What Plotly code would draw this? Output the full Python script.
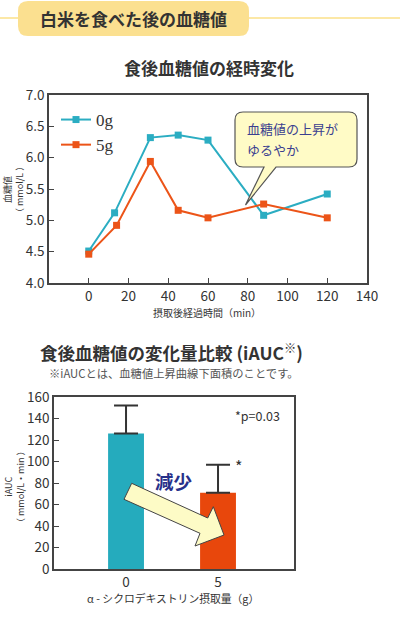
import plotly.graph_objects as go

# ---- data ----
time_0g = [0, 13, 31, 45, 60, 88, 120]
glucose_0g = [4.51, 5.12, 6.32, 6.36, 6.28, 5.08, 5.42]
time_5g = [0, 14, 31, 45, 60, 88, 120]
glucose_5g = [4.46, 4.92, 5.94, 5.16, 5.04, 5.26, 5.04]
x_ticks = [0, 20, 40, 60, 80, 100, 120, 140]

dose_labels = ["0", "5"]
iauc_values = [126, 71]
iauc_err = [26, 26]

W, H = 400, 623
FONT = "Noto Sans CJK JP"
CYAN = "#2badc2"
ORANGE = "#ec5418"
BAR_CYAN = "#25abbd"
BAR_ORANGE = "#e8470c"
TXT = "#333333"


def px(x):
    return x / W


def py(y):
    return 1 - y / H


fig = go.Figure()

fig.add_trace(go.Scatter(
    x=time_0g, y=glucose_0g, name="0g", mode="lines+markers",
    line=dict(color=CYAN, width=2), marker=dict(symbol="square", size=7, color=CYAN),
    xaxis="x", yaxis="y"))
fig.add_trace(go.Scatter(
    x=time_5g, y=glucose_5g, name="5g", mode="lines+markers",
    line=dict(color=ORANGE, width=2), marker=dict(symbol="square", size=7, color=ORANGE),
    xaxis="x", yaxis="y"))

fig.add_trace(go.Bar(
    x=dose_labels, y=iauc_values, width=0.39,
    marker=dict(color=[BAR_CYAN, BAR_ORANGE], line=dict(width=0)),
    error_y=dict(type="data", symmetric=False, array=iauc_err, arrayminus=[0, 0],
                 color="#333333", thickness=2, width=12),
    showlegend=False, xaxis="x2", yaxis="y2"))

axis_common = dict(showline=True, linecolor="#444444", linewidth=1.5, mirror=True,
                   ticks="inside", ticklen=5, tickcolor="#444444", showgrid=False,
                   zeroline=False, automargin=False,
                   tickfont=dict(family=FONT, size=13.5, color=TXT))

fig.update_layout(
    width=W, height=H, margin=dict(l=0, r=0, t=0, b=0, autoexpand=False),
    paper_bgcolor="white", plot_bgcolor="white",
    font=dict(family=FONT, color=TXT),
    xaxis=dict(domain=[px(49), px(367)], range=[-20, 140], tickvals=x_ticks,
               anchor="y", **axis_common),
    yaxis=dict(domain=[py(283), py(95)], range=[4, 7], dtick=0.5, tickformat=".1f",
               anchor="x", **axis_common),
    xaxis2=dict(domain=[px(54), px(294)], type="category", categoryarray=dose_labels,
                range=[-0.783, 1.826], anchor="y2",
                **{**axis_common, "ticks": ""}),
    yaxis2=dict(domain=[py(569), py(397)], range=[0, 160], dtick=20, anchor="x2",
                **axis_common),
    legend=dict(x=px(56), y=py(102), xanchor="left", yanchor="top",
                font=dict(family="Liberation Serif", size=17, color=TXT),
                itemwidth=30, tracegroupgap=0, bgcolor="rgba(0,0,0,0)"),
)

shapes = []
# header line and box
shapes.append(dict(type="line", xref="paper", yref="paper", x0=0, x1=1, y0=py(18), y1=py(18),
                   line=dict(color="#fce8a6", width=2), layer="below"))


def rrect(x0, y0, x1, y1, r):
    return (f"M {px(x0+r)} {py(y0)} L {px(x1-r)} {py(y0)} Q {px(x1)} {py(y0)} {px(x1)} {py(y0+r)} "
            f"L {px(x1)} {py(y1-r)} Q {px(x1)} {py(y1)} {px(x1-r)} {py(y1)} "
            f"L {px(x0+r)} {py(y1)} Q {px(x0)} {py(y1)} {px(x0)} {py(y1-r)} "
            f"L {px(x0)} {py(y0+r)} Q {px(x0)} {py(y0)} {px(x0+r)} {py(y0)} Z")


shapes.append(dict(type="path", xref="paper", yref="paper", path=rrect(18, 1, 249, 36, 10),
                   fillcolor="#fbe090", line=dict(width=0)))

# callout bubble
x0, y0, x1, y1, r = 235, 112, 357, 167, 8
bubble = (f"M {px(x0+r)} {py(y0)} L {px(x1-r)} {py(y0)} Q {px(x1)} {py(y0)} {px(x1)} {py(y0+r)} "
          f"L {px(x1)} {py(y1-r)} Q {px(x1)} {py(y1)} {px(x1-r)} {py(y1)} "
          f"L {px(276)} {py(y1)} L {px(245.5)} {py(205)} L {px(264)} {py(y1)} "
          f"L {px(x0+r)} {py(y1)} Q {px(x0)} {py(y1)} {px(x0)} {py(y1-r)} "
          f"L {px(x0)} {py(y0+r)} Q {px(x0)} {py(y0)} {px(x0+r)} {py(y0)} Z")
shapes.append(dict(type="path", xref="paper", yref="paper", path=bubble,
                   fillcolor="#fffbc6", line=dict(color="#555555", width=1.2)))

# arrow
pts = [(131.7, 483.3), (207.7, 518), (213.3, 506.7), (224, 535), (195, 546), (200, 533.3), (124, 499.3)]
arrow = "M " + " L ".join(f"{px(a)} {py(b)}" for a, b in pts) + " Z"
shapes.append(dict(type="path", xref="paper", yref="paper", path=arrow,
                   fillcolor="#fdfbc6", line=dict(color="#444444", width=1)))
fig.update_layout(shapes=shapes)


def ann(text, x, y, size, color=TXT, xanchor="center", angle=0, family=FONT, align="center"):
    fig.add_annotation(text=text, x=px(x), y=py(y), xref="paper", yref="paper",
                       showarrow=False, xanchor=xanchor, yanchor="middle", textangle=angle,
                       align=align, font=dict(family=family, size=size, color=color))


ann("<b>白米を食べた後の血糖値</b>", 133, 19, 17)
ann("<b>食後血糖値の経時変化</b>", 209, 68, 17)
ann("血糖値<br>（ mmol/L ）", 14, 190, 9, angle=-90)
ann("摂取後経過時間（min）", 207, 312, 10)
ann("血糖値の上昇が", 245, 128, 13, color="#3b3f8f", xanchor="left")
ann("ゆるやか", 245, 149, 13, color="#3b3f8f", xanchor="left")

ann("<b>食後血糖値の変化量比較 (iAUC<sup>※</sup>)</b>", 171, 351.5, 17.5)
ann("※iAUCとは、血糖値上昇曲線下面積のことです。", 174, 373, 11.3, color="#555555")
ann("iAUC<br>（ mmol/L・min ）", 14, 487, 9, angle=-90)
ann("α - シクロデキストリン摂取量（g）", 173, 598, 10.8)
ann("*p=0.03", 257, 415, 12.5)
ann("*", 238, 466, 16)
ann("<b>減少</b>", 174, 481, 18.5, color="#27308a")

fig.write_html("out.html", config={"displayModeBar": False},
               post_script="document.body.style.margin='0';")
